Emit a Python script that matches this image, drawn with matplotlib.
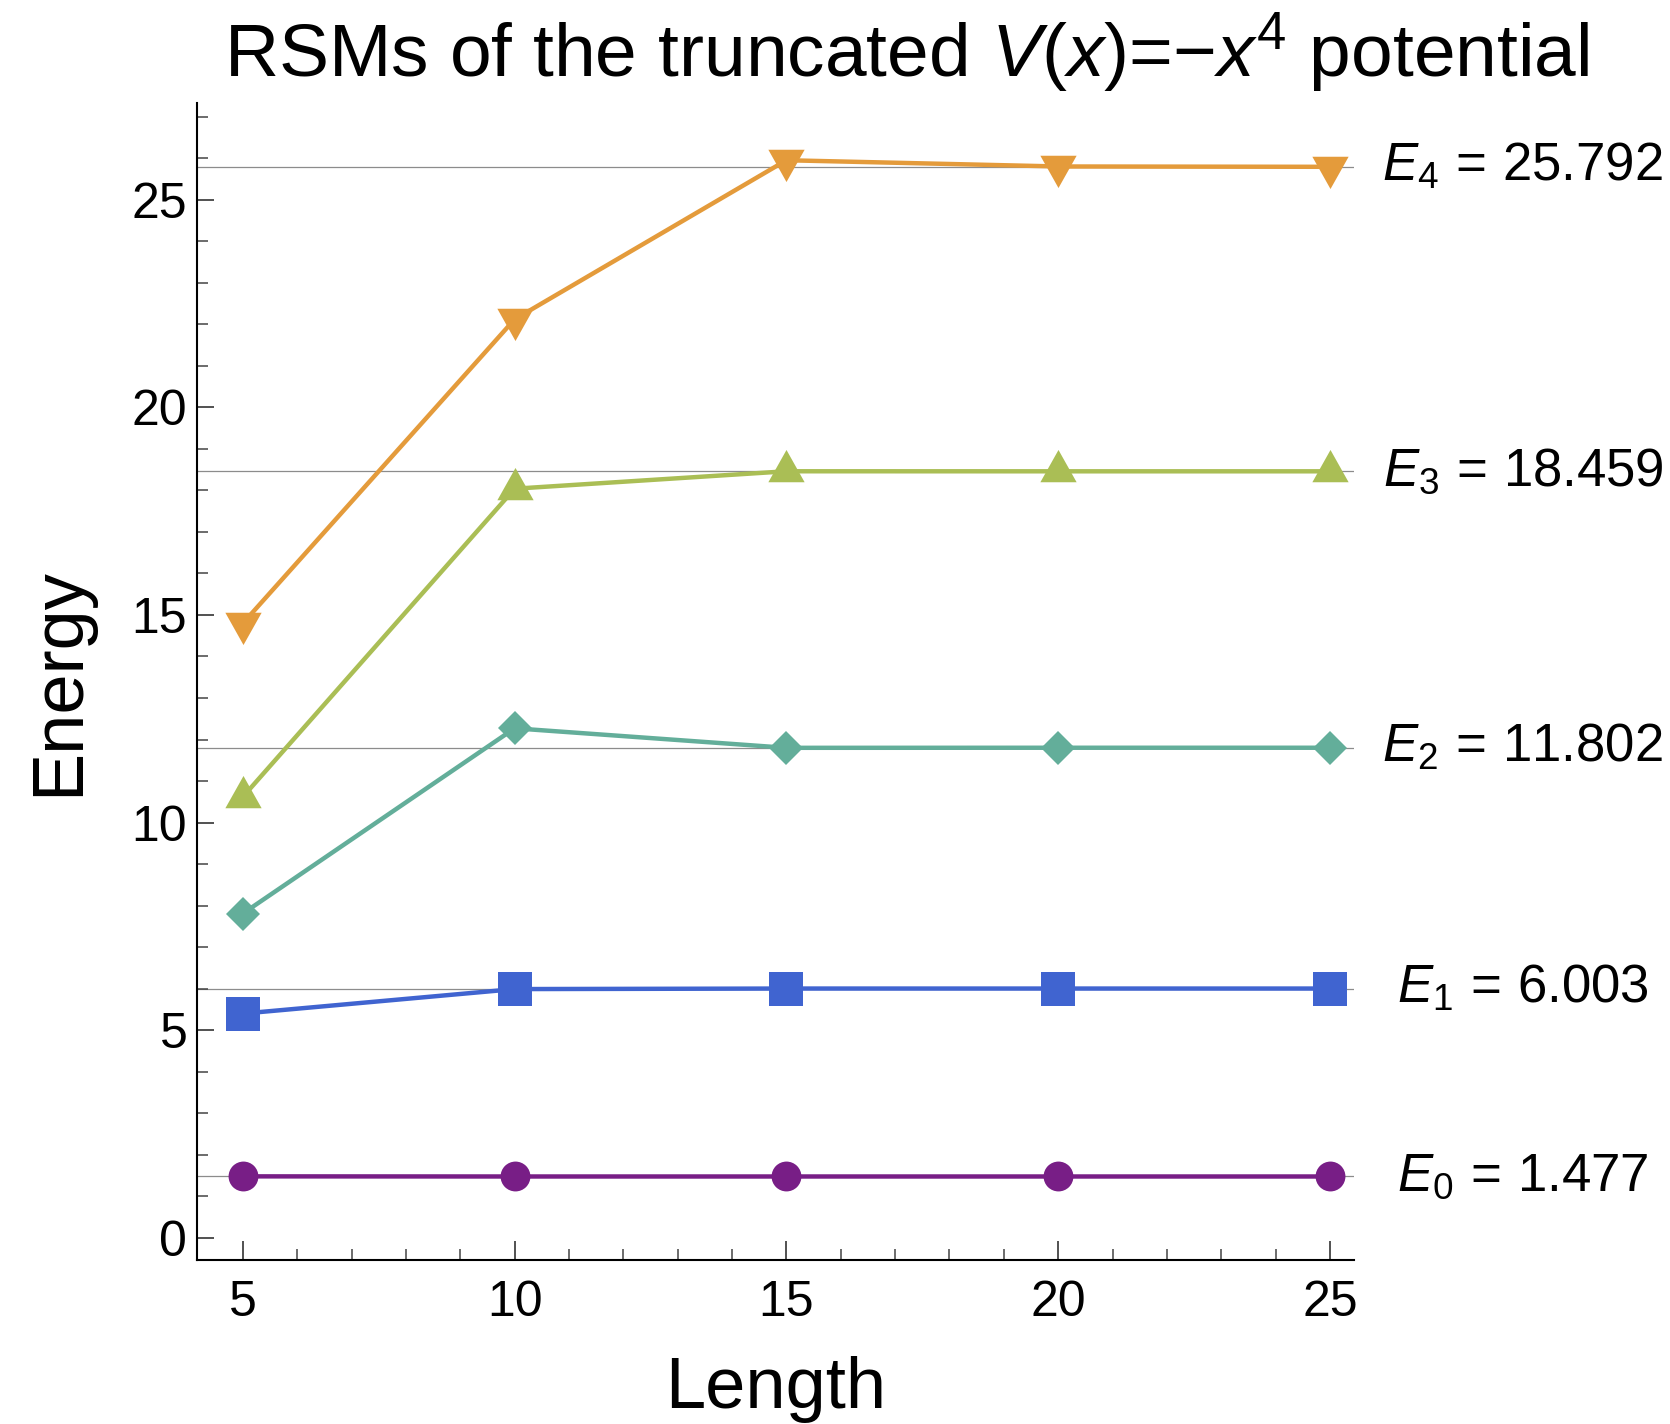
import numpy as np
import matplotlib.pyplot as plt
from matplotlib.ticker import MultipleLocator

plt.rcParams['font.family'] = ['Liberation Sans', 'DejaVu Sans']
plt.rcParams['mathtext.fontset'] = 'custom'
plt.rcParams['mathtext.rm'] = 'Liberation Sans'
plt.rcParams['mathtext.it'] = 'Liberation Sans:italic'

# data
lengths = [5, 10, 15, 20, 25]
e0 = [1.48, 1.477, 1.477, 1.477, 1.477]
e1 = [5.40, 5.99, 6.003, 6.003, 6.003]
e2 = [7.81, 12.27, 11.80, 11.802, 11.802]
e3 = [10.62, 18.04, 18.46, 18.459, 18.459]
e4 = [14.80, 22.12, 25.95, 25.80, 25.792]
levels = [1.477, 6.003, 11.802, 18.459, 25.792]
level_names = ['0', '1', '2', '3', '4']

colors = ['#781E86', '#4064D0', '#63AE9A', '#AABE55', '#E49B3B']

# triangles centred on their centroid (like Mathematica)
tri_up = [(0, 1.187), (-1, -0.593), (1, -0.593), (0, 1.187)]
tri_dn = [(0, -1.187), (-1, 0.593), (1, 0.593), (0, -1.187)]
markers = ['o', 's', 'D', tri_up, tri_dn]
msizes = [21.5, 24, 17.5, 31, 31]

fig = plt.figure(figsize=(16.7, 14.24), dpi=100)
ax = fig.add_axes([0.118, 0.115, 0.693, 0.813])

for lv in levels:
    ax.axhline(lv, color='#8c8c8c', lw=0.9, zorder=1)

series = [e0, e1, e2, e3, e4]
for s, c, m, ms in zip(series, colors, markers, msizes):
    ax.plot(lengths, s, color=c, lw=3.2, marker=m, markersize=ms,
            markeredgewidth=0, zorder=3, clip_on=False)

for lv, nm in zip(levels, level_names):
    ax.text(28.55, lv, r'$E_{%s}\,=\,%.3f$' % (nm, lv), fontsize=38,
            ha='center', va='center', clip_on=False)

ax.set_xlim(4.157, 25.45)
ax.set_ylim(-0.54, 27.34)
ax.xaxis.set_major_locator(MultipleLocator(5))
ax.xaxis.set_minor_locator(MultipleLocator(1))
ax.yaxis.set_major_locator(MultipleLocator(5))
ax.yaxis.set_minor_locator(MultipleLocator(1))

for side in ['top', 'right']:
    ax.spines[side].set_visible(False)
for side in ['left', 'bottom']:
    ax.spines[side].set_linewidth(1.5)

ax.tick_params(which='major', direction='in', labelsize=36, width=1.1, color='#222222')
ax.tick_params(axis='x', which='major', length=14, pad=14)
ax.tick_params(axis='y', which='major', length=12, pad=7)
ax.tick_params(which='minor', direction='in', length=8, width=1.1, color='#444444')

ax.set_xlabel('Length', fontsize=52, labelpad=22)
ax.set_ylabel('Energy', fontsize=52, labelpad=28)

fig.text(0.543, 0.963, r'RSMs of the truncated $V(x)$=$-x^{4}$ potential',
         fontsize=54, ha='center', va='center')

fig.savefig('out.png', dpi=100, facecolor='white')
